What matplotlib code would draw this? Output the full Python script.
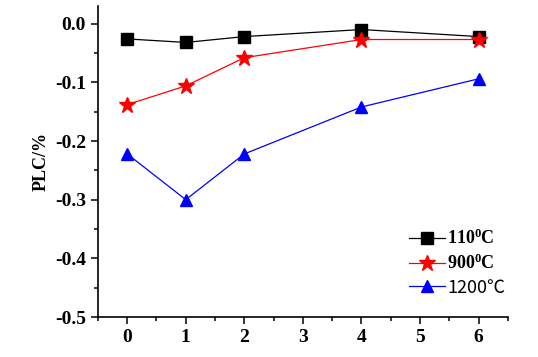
import matplotlib
matplotlib.use("Agg")
import matplotlib.pyplot as plt
from matplotlib.ticker import MultipleLocator

# data
x = [0, 1, 2, 4, 6]
plc_110 = [-0.026, -0.032, -0.022, -0.010, -0.022]
plc_900 = [-0.138, -0.106, -0.058, -0.027, -0.027]
plc_1200 = [-0.222, -0.300, -0.222, -0.142, -0.094]
labels = [r"$\mathbf{110^0C}$", r"$\mathbf{900^0C}$", "1200℃"]

plt.rcParams["font.family"] = ["Liberation Serif", "DejaVu Serif"]
plt.rcParams["mathtext.fontset"] = "custom"
plt.rcParams["mathtext.bf"] = "Liberation Serif:bold"
plt.rcParams["mathtext.rm"] = "Liberation Serif"

fig = plt.figure(figsize=(5.38, 3.57), dpi=100)
ax = fig.add_axes([0.182, 0.112, 0.762, 0.871])

ax.plot(x, plc_110, "-s", color="black", lw=0.9, ms=8, label=labels[0])
ax.plot(x, plc_900, "-*", color="red", lw=0.9, ms=12, label=labels[1])
ax.plot(x, plc_1200, "-^", color="blue", lw=0.9, ms=9, label=labels[2])

ax.set_xlim(-0.5, 6.5)
ax.set_ylim(-0.5, 0.03)
ax.xaxis.set_major_locator(MultipleLocator(1))
ax.xaxis.set_minor_locator(MultipleLocator(0.5))
ax.yaxis.set_major_locator(MultipleLocator(0.1))
ax.yaxis.set_minor_locator(MultipleLocator(0.05))
ax.yaxis.set_major_formatter(matplotlib.ticker.FuncFormatter(lambda v, p: f"{v:.1f}"))

for s in ["top", "right"]:
    ax.spines[s].set_visible(False)
for s in ["left", "bottom"]:
    ax.spines[s].set_linewidth(1.2)
ax.tick_params(which="major", direction="out", length=5, width=1.1)
ax.tick_params(which="minor", direction="out", length=3, width=1.1)
for t in ax.get_xticklabels() + ax.get_yticklabels():
    t.set_fontweight("bold")
    t.set_fontsize(14)

ax.set_ylabel("PLC/%", fontsize=13, fontweight="bold", labelpad=4)

leg = ax.legend(loc="lower right", bbox_to_anchor=(1.025, 0.025), frameon=False,
                fontsize=13, handlelength=2.0, handletextpad=0.15,
                labelspacing=0.3, borderpad=0.2)
leg.get_texts()[2].set_family(["Noto Sans CJK SC", "DejaVu Sans"])

fig.savefig("out.png", dpi=100)
